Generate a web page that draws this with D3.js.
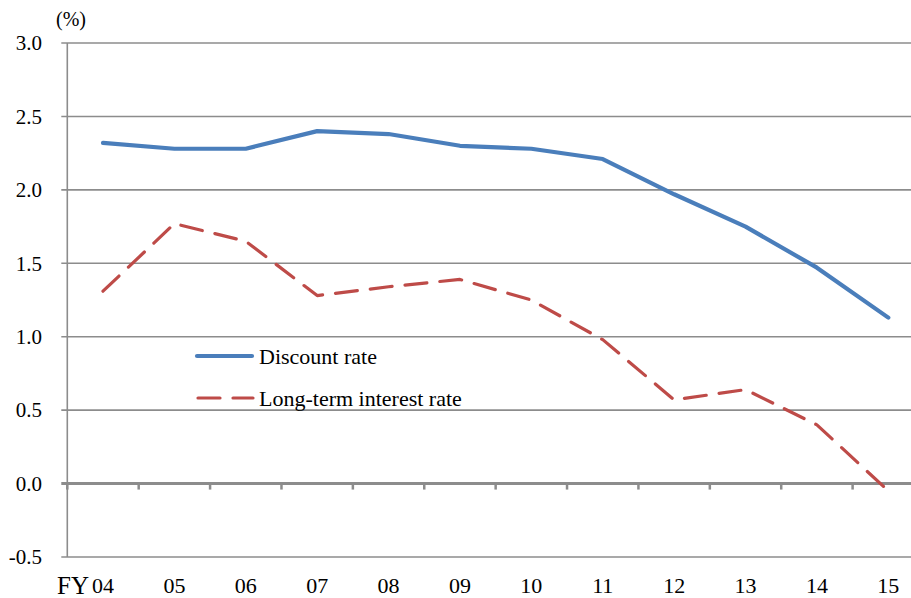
<!DOCTYPE html>
<html>
<head>
<meta charset="utf-8">
<script src="https://cdn.jsdelivr.net/npm/d3@7"></script>
<style>
  html, body { margin: 0; padding: 0; background: #fff; }
  svg { display: block; font-family: "Liberation Serif", "Times New Roman", serif; }
</style>
</head>
<body>
<svg id="chart" width="911" height="598"></svg>
<script>
// Fiscal years
const years = ["04", "05", "06", "07", "08", "09", "10", "11", "12", "13", "14", "15"];
// Discount rate (%)
const discountRate = [2.32, 2.28, 2.28, 2.40, 2.38, 2.30, 2.28, 2.21, 1.97, 1.75, 1.47, 1.13];
// Long-term interest rate (%)
const longTermRate = [1.31, 1.77, 1.65, 1.28, 1.34, 1.39, 1.25, 0.98, 0.57, 0.64, 0.40, -0.05];
// Y-axis tick values
const yTicks = [-0.5, 0.0, 0.5, 1.0, 1.5, 2.0, 2.5, 3.0];

const svg = d3.select("#chart");

const plotLeft = 67.3, plotRight = 924, plotTop = 43, plotBottom = 557;

const x = d3.scaleBand().domain(years).range([plotLeft, plotRight]);
const y = d3.scaleLinear().domain([-0.5, 3.0]).range([plotBottom, plotTop]);

const gridColor = "#8c8c8c";

// Horizontal gridlines with short outer ticks
svg.append("g").selectAll("line").data(yTicks.filter(v => v !== 0)).join("line")
  .attr("x1", plotLeft - 6).attr("x2", plotRight)
  .attr("y1", d => y(d)).attr("y2", d => y(d))
  .attr("stroke", gridColor).attr("stroke-width", 1.6);

// Vertical axis line
svg.append("line")
  .attr("x1", plotLeft).attr("x2", plotLeft)
  .attr("y1", plotTop).attr("y2", plotBottom)
  .attr("stroke", gridColor).attr("stroke-width", 1.6);

// Zero line (category axis) with tick marks at band boundaries
svg.append("line")
  .attr("x1", plotLeft - 6).attr("x2", plotRight)
  .attr("y1", y(0)).attr("y2", y(0))
  .attr("stroke", gridColor).attr("stroke-width", 3);

svg.append("g").selectAll("line").data(years).join("line")
  .attr("x1", d => x(d)).attr("x2", d => x(d))
  .attr("y1", y(0)).attr("y2", y(0) + 6)
  .attr("stroke", gridColor).attr("stroke-width", 2.5);

// Y tick labels
svg.append("g").selectAll("text").data(yTicks).join("text")
  .attr("x", 42).attr("y", d => y(d)).attr("dy", "0.35em")
  .attr("text-anchor", "end")
  .attr("font-size", 21).attr("fill", "#000")
  .text(d => d.toFixed(1));

// Unit label
svg.append("text")
  .attr("x", 71).attr("y", 26)
  .attr("text-anchor", "middle")
  .attr("font-size", 20).attr("fill", "#000")
  .text("(%)");

// X tick labels
svg.append("g").selectAll("text").data(years).join("text")
  .attr("x", d => x(d) + x.bandwidth() / 2).attr("y", 593)
  .attr("text-anchor", "middle")
  .attr("font-size", 22).attr("fill", "#000")
  .text(d => d);

svg.append("text")
  .attr("x", 89).attr("y", 594)
  .attr("text-anchor", "end")
  .attr("font-size", 25).attr("fill", "#000")
  .text("FY");

const line = d3.line()
  .x((d, i) => x(years[i]) + x.bandwidth() / 2)
  .y(d => y(d));

// Discount rate line
svg.append("path")
  .datum(discountRate)
  .attr("d", line)
  .attr("fill", "none")
  .attr("stroke", "#4a7ebb")
  .attr("stroke-width", 4.2)
  .attr("stroke-linecap", "round")
  .attr("stroke-linejoin", "round");

// Long-term interest rate line
svg.append("path")
  .datum(longTermRate)
  .attr("d", line)
  .attr("fill", "none")
  .attr("stroke", "#be4b48")
  .attr("stroke-width", 3.2)
  .attr("stroke-dasharray", "22,13")
  .attr("stroke-linecap", "round")
  .attr("stroke-linejoin", "round");

// Legend
const legend = svg.append("g");
legend.append("line")
  .attr("x1", 197).attr("x2", 252).attr("y1", 356).attr("y2", 356)
  .attr("stroke", "#4a7ebb").attr("stroke-width", 4.2).attr("stroke-linecap", "round");
legend.append("text")
  .attr("x", 259).attr("y", 356).attr("dy", "0.35em")
  .attr("font-size", 22).attr("fill", "#000")
  .text("Discount rate");

legend.append("line")
  .attr("x1", 198).attr("x2", 253).attr("y1", 398).attr("y2", 398)
  .attr("stroke", "#be4b48").attr("stroke-width", 3.2)
  .attr("stroke-dasharray", "22,13").attr("stroke-linecap", "round");
legend.append("text")
  .attr("x", 259).attr("y", 398).attr("dy", "0.35em")
  .attr("font-size", 22).attr("fill", "#000")
  .text("Long-term interest rate");
</script>
</body>
</html>
